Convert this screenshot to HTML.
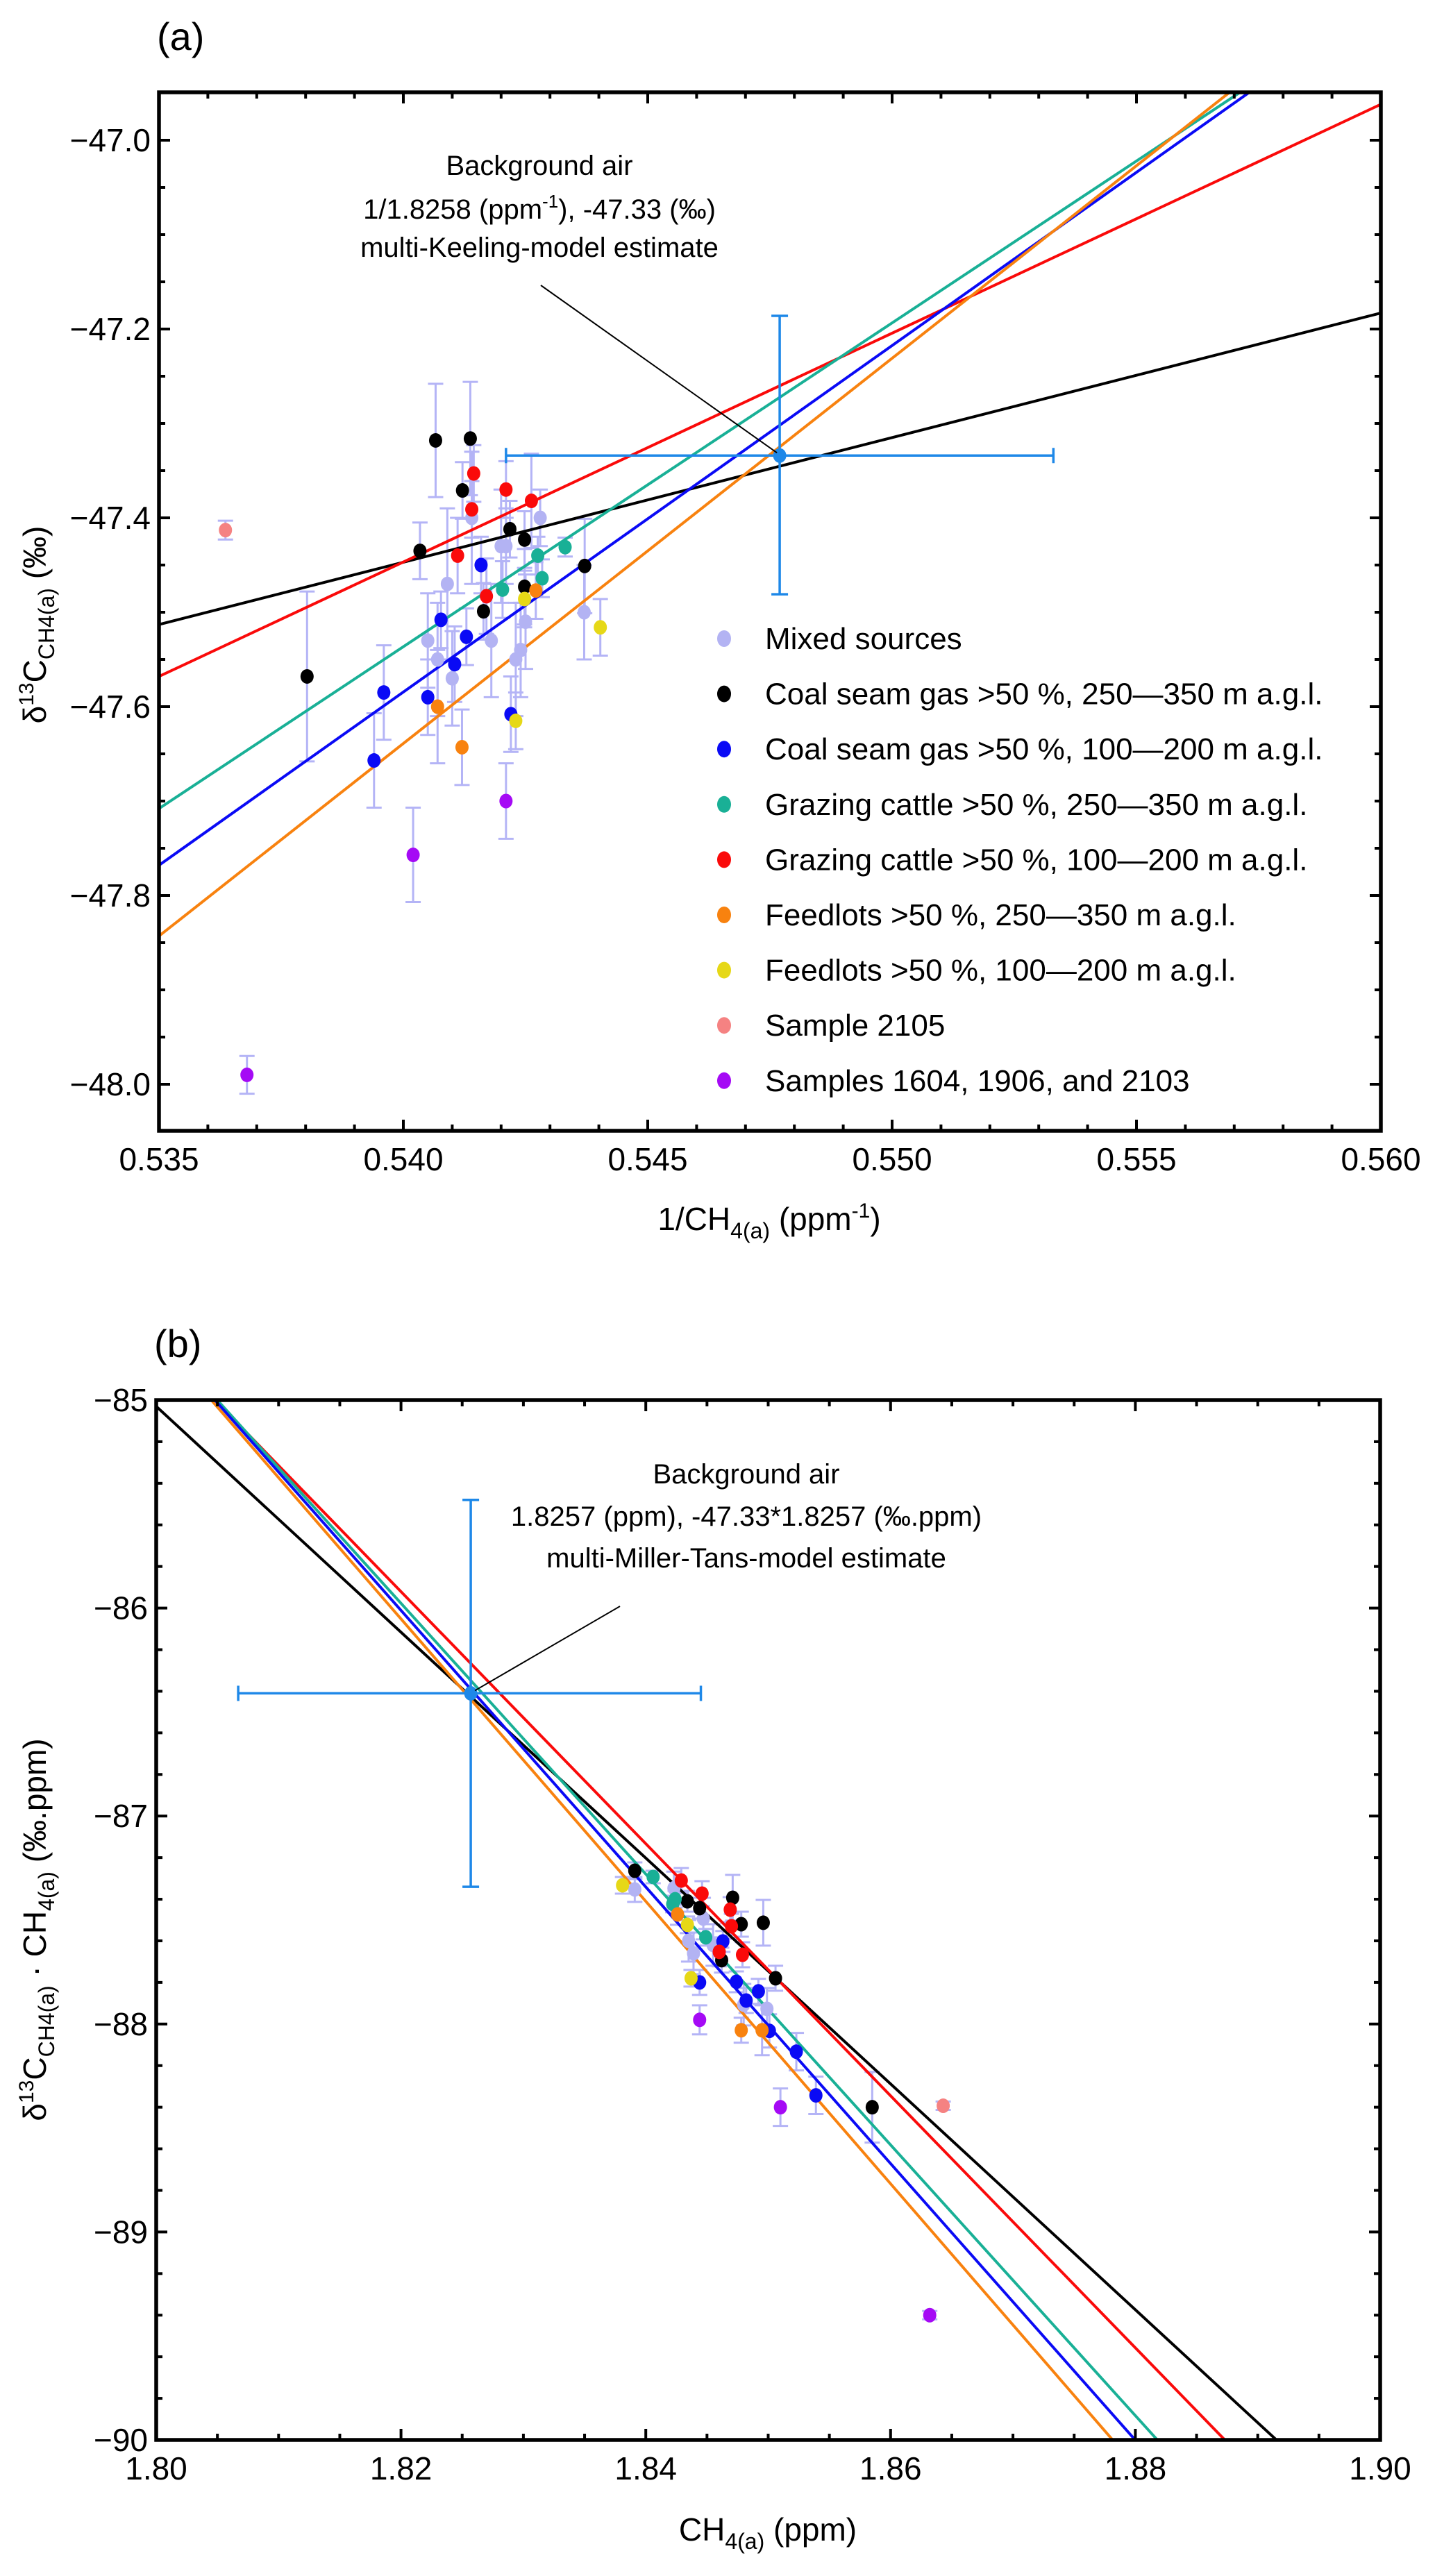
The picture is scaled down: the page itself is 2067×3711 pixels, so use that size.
<!DOCTYPE html>
<html><head><meta charset="utf-8"><style>
html,body{margin:0;padding:0;background:#fff;width:2067px;height:3711px;overflow:hidden}
svg{display:block;position:absolute;left:0;top:0}
text{font-family:"Liberation Sans",sans-serif;fill:#000}
</style></head><body>
<svg id="fig" xmlns="http://www.w3.org/2000/svg" width="2067" height="3711" viewBox="0 0 2067 3711">
<rect width="2067" height="3711" fill="#fff"/>
<defs>
<clipPath id="clipA"><rect x="229" y="133" width="1760" height="1496"/></clipPath>
<clipPath id="clipB"><rect x="225" y="2017" width="1763" height="1498"/></clipPath>
</defs>
<text x="226" y="72" font-size="56">(a)</text>
<text x="222" y="1955" font-size="56">(b)</text>
<g id="gA"></g>
<g id="gB"></g>

<text x="1108" y="1772" font-size="46" text-anchor="middle">1/CH<tspan font-size="32" dy="12">4(a)</tspan><tspan dy="-12"> (ppm</tspan><tspan font-size="30" dy="-18">-1</tspan><tspan dy="18">)</tspan></text>
<text transform="translate(66,900) rotate(-90)" font-size="46" text-anchor="middle">δ<tspan font-size="30" dy="-18">13</tspan><tspan dy="18">C</tspan><tspan font-size="32" dy="12">CH4(a)</tspan><tspan dy="-12"> (‰)</tspan></text>
<text x="1106" y="3660" font-size="46" text-anchor="middle">CH<tspan font-size="32" dy="12">4(a)</tspan><tspan dy="-12"> (ppm)</tspan></text>
<text transform="translate(66,2780) rotate(-90)" font-size="46" text-anchor="middle">δ<tspan font-size="30" dy="-18">13</tspan><tspan dy="18">C</tspan><tspan font-size="32" dy="12">CH4(a)</tspan><tspan dy="-12"> · CH</tspan><tspan font-size="32" dy="12">4(a)</tspan><tspan dy="-12"> (‰.ppm)</tspan></text>

<g font-size="40" text-anchor="middle">
<text x="777" y="252">Background air</text>
<text x="777" y="315">1/1.8258 (ppm<tspan font-size="26" dy="-16">-1</tspan><tspan dy="16">), -47.33 (‰)</tspan></text>
<text x="777" y="370">multi-Keeling-model estimate</text>
</g>
<g font-size="40" text-anchor="middle">
<text x="1075" y="2137">Background air</text>
<text x="1075" y="2198">1.8257 (ppm), -47.33*1.8257 (‰.ppm)</text>
<text x="1075" y="2258">multi-Miller-Tans-model estimate</text>
</g>
</svg>
<script>
// ---------- Panel (a) data ----------
const aMixX=[0.5405,0.5407,0.5410,0.5414,0.5418,0.5421,0.5424,0.5425,0.5428,0.5437,0.5423,0.5409,0.5420];
const aMixY=[-47.53,-47.55,-47.57,-47.40,-47.53,-47.43,-47.54,-47.51,-47.40,-47.50,-47.55,-47.47,-47.43];
const aMixE=[0.05,0.06,0.05,0.07,0.06,0.04,0.05,0.05,0.03,0.05,0.06,0.08,0.06];
const aCoalHiX=[0.54066,0.54137,0.54121,0.54218,0.54248,0.54034,0.54371,0.54248,0.54164,0.53803];
const aCoalHiY=[-47.318,-47.316,-47.371,-47.412,-47.423,-47.435,-47.451,-47.473,-47.499,-47.568];
const aCoalHiE=[0.06,0.06,0.03,0.03,0.03,0.03,0.05,0.04,0.03,0.09];
const aCoalLoX=[0.54159,0.54077,0.54129,0.54105,0.5394,0.5396,0.5405,0.5422];
const aCoalLoY=[-47.450,-47.508,-47.526,-47.555,-47.657,-47.585,-47.59,-47.608];
const aCoalLoE=[0.03,0.03,0.03,0.04,0.05,0.05,0.04,0.04];
const aGrazHiX=[0.54331,0.54275,0.54284,0.54203];
const aGrazHiY=[-47.431,-47.440,-47.464,-47.476];
const aGrazHiE=[0.01,0.02,0.02,0.03];
const aGrazLoX=[0.54144,0.5421,0.5414,0.54262,0.54111,0.5417];
const aGrazLoY=[-47.353,-47.370,-47.391,-47.382,-47.440,-47.483];
const aGrazLoE=[0.03,0.03,0.03,0.05,0.04,0.04];
const aFeedHiX=[0.54271,0.5407,0.5412];
const aFeedHiY=[-47.477,-47.60,-47.643];
const aFeedHiE=[0.03,0.06,0.04];
const aFeedLoX=[0.54248,0.54403,0.5423];
const aFeedLoY=[-47.486,-47.516,-47.615];
const aFeedLoE=[0.03,0.03,0.03];
const aS2105X=[0.53636];
const aS2105Y=[-47.413];
const aS2105E=[0.01];
const aSampX=[0.5368,0.5402,0.5421];
const aSampY=[-47.99,-47.757,-47.70];
const aSampE=[0.02,0.05,0.04];
const aBgX=0.5477, aBgY=-47.334, aBgXlo=0.5421, aBgXhi=0.5533, aBgYlo=-47.481, aBgYhi=-47.186;
const aFitNames=['coal-hi','red-graz-lo','teal-graz-hi','blue-coal-lo','orange-feed-hi'];
const aFitAt0535=[-47.513,-47.568,-47.708,-47.768,-47.843];
const aFitSlope=[13.2,24.24,34.3,36.7,40.8];
const aXTicks=[0.535,0.540,0.545,0.550,0.555,0.560];
const aXTickLabels=['0.535','0.540','0.545','0.550','0.555','0.560'];
const aYTicks=[-47.0,-47.2,-47.4,-47.6,-47.8,-48.0];
const aYTickLabels=['−47.0','−47.2','−47.4','−47.6','−47.8','−48.0'];
const legendLabels=['Mixed sources','Coal seam gas >50 %, 250—350 m a.g.l.','Coal seam gas >50 %, 100—200 m a.g.l.','Grazing cattle >50 %, 250—350 m a.g.l.','Grazing cattle >50 %, 100—200 m a.g.l.','Feedlots >50 %, 250—350 m a.g.l.','Feedlots >50 %, 100—200 m a.g.l.','Sample 2105','Samples 1604, 1906, and 2103'];

// ---------- Panel (b) data ----------
const bMixX=[1.8391,1.8435,1.8439,1.8447,1.8480,1.8499,1.8423,1.8455];
const bMixY=[-87.353,-87.60,-87.66,-87.493,-87.907,-87.927,-87.347,-87.62];
const bMixE=[0.06,0.1,0.1,0.1,0.1,0.1,0.08,0.1];
const bCoalHiX=[1.8391,1.8434,1.8444,1.8471,1.8478,1.8496,1.8462,1.8506,1.8585];
const bCoalHiY=[-87.263,-87.41,-87.443,-87.393,-87.52,-87.513,-87.693,-87.78,-88.40];
const bCoalHiE=[0.04,0.05,0.05,0.11,0.06,0.11,0.06,0.06,0.17];
const bCoalLoX=[1.8463,1.8444,1.8474,1.8492,1.8482,1.8501,1.8523,1.8539];
const bCoalLoY=[-87.603,-87.80,-87.797,-87.843,-87.887,-88.033,-88.133,-88.343];
const bCoalLoE=[0.05,0.06,0.05,0.06,0.06,0.08,0.09,0.09];
const bGrazHiX=[1.8406,1.8424,1.8422,1.8449];
const bGrazHiY=[-87.293,-87.40,-87.423,-87.583];
const bGrazHiE=[0.03,0.04,0.04,0.04];
const bGrazLoX=[1.8429,1.8446,1.8469,1.847,1.846,1.8479];
const bGrazLoY=[-87.31,-87.373,-87.45,-87.53,-87.653,-87.667];
const bGrazLoE=[0.06,0.06,0.06,0.06,0.07,0.06];
const bFeedHiX=[1.8426,1.8478,1.8495];
const bFeedHiY=[-87.473,-88.03,-88.03];
const bFeedHiE=[0.05,0.06,0.12];
const bFeedLoX=[1.8381,1.8434,1.8437];
const bFeedLoY=[-87.333,-87.523,-87.78];
const bFeedLoE=[0.04,0.04,0.04];
const bS2105X=[1.8643];
const bS2105Y=[-88.393];
const bS2105E=[0.02];
const bSampX=[1.8444,1.8510,1.8632];
const bSampY=[-87.98,-88.40,-89.40];
const bSampE=[0.07,0.09,0.02];
const bBgX=1.8257, bBgY=-86.41, bBgXlo=1.8067, bBgXhi=1.8445, bBgYlo=-87.34, bBgYhi=-85.48;
const bFitNames=['coal-hi','red-graz-lo','teal-graz-hi','blue-coal-lo','orange-feed-hi'];
const bFitAt180=[-85.03,-84.709,-84.675,-84.681,-84.694];
const bFitSlope=[-54.3,-60.6,-65.1,-66.5,-67.9];
const bXTicks=[1.80,1.82,1.84,1.86,1.88,1.90];
const bXTickLabels=['1.80','1.82','1.84','1.86','1.88','1.90'];
const bYTicks=[-85,-86,-87,-88,-89,-90];
const bYTickLabels=['−85','−86','−87','−88','−89','−90'];

const COLORS={mix:'#b3b3f3',coalHi:'#000000',coalLo:'#0a0af5',grazHi:'#19b096',grazLo:'#fa0a0a',feedHi:'#f8820f',feedLo:'#e6d817',s2105:'#f58282',samp:'#a50af5',bg:'#1e88e8',err:'#b4b4f6'};
const fitColors=[COLORS.coalHi,COLORS.grazLo,COLORS.grazHi,COLORS.coalLo,COLORS.feedHi];
const NS='http://www.w3.org/2000/svg';

function mk(parent,tag,attrs){const e=document.createElementNS(NS,tag);for(const k in attrs)e.setAttribute(k,attrs[k]);parent.appendChild(e);return e;}

function axes(g,P,xT,xL,yT,yL,xMinorStep,yMinorStep,prefix){
  const f=mk(g,'rect',{x:P.L,y:P.T,width:P.R-P.L,height:P.B-P.T,fill:'none',stroke:'#000','stroke-width':5.5});
  
  
  const x0=xT[0],x1=xT[xT.length-1];
  const nx=Math.round((x1-x0)/xMinorStep);
  for(let i=0;i<=nx;i++){const v=x0+i*xMinorStep;const px=P.sx(v);const major=(i%Math.round((xT[1]-xT[0])/xMinorStep)===0);const len=major?16:9;
    mk(g,'line',{x1:px,y1:P.B,x2:px,y2:P.B-len,stroke:'#000','stroke-width':4});
    mk(g,'line',{x1:px,y1:P.T,x2:px,y2:P.T+len,stroke:'#000','stroke-width':4});}
  const y0=yT[0],y1=yT[yT.length-1];
  const ny=Math.round(Math.abs(y1-y0)/yMinorStep);const dir=y1>y0?1:-1;
  const per=Math.round(Math.abs(yT[1]-yT[0])/yMinorStep);
  for(let i=0;i<=ny;i++){const v=y0+dir*i*yMinorStep;const py=P.sy(v);const len=(i%per===0)?16:9;
    mk(g,'line',{x1:P.L,y1:py,x2:P.L+len,y2:py,stroke:'#000','stroke-width':4});
    mk(g,'line',{x1:P.R,y1:py,x2:P.R-len,y2:py,stroke:'#000','stroke-width':4});}
  xT.forEach((v,i)=>{const t=mk(g,'text',{x:P.sx(v),y:P.B+57,'font-size':46,'text-anchor':'middle'});t.textContent=xL[i];
    
    });
  yT.forEach((v,i)=>{const t=mk(g,'text',{x:P.L-12,y:P.sy(v)+16,'font-size':46,'text-anchor':'end'});t.textContent=yL[i];
    
    });
}

function errbars(g,P,xs,ys,es,prefix){
  xs.forEach((x,i)=>{const px=P.sx(x),yt=P.sy(ys[i]+es[i]),yb=P.sy(ys[i]-es[i]);
    const eg=mk(g,'g',{stroke:COLORS.err,'stroke-width':3});
    
    
    mk(eg,'line',{x1:px,y1:yt,x2:px,y2:yb});
    mk(eg,'line',{x1:px-11,y1:yt,x2:px+11,y2:yt});
    mk(eg,'line',{x1:px-11,y1:yb,x2:px+11,y2:yb});});
}
function points(g,P,xs,ys,color,prefix){
  xs.forEach((x,i)=>{const c=mk(g,'ellipse',{cx:P.sx(x),cy:P.sy(ys[i]),rx:9.5,ry:10.5,fill:color});
    
    });
}
function bgPoint(g,P,x,y,xlo,xhi,ylo,yhi,prefix){
  const bg=mk(g,'g',{stroke:COLORS.bg,'stroke-width':3.5});
  
  
  const px=P.sx(x),py=P.sy(y);
  mk(bg,'line',{x1:P.sx(xlo),y1:py,x2:P.sx(xhi),y2:py});
  mk(bg,'line',{x1:P.sx(xlo),y1:py-11,x2:P.sx(xlo),y2:py+11});
  mk(bg,'line',{x1:P.sx(xhi),y1:py-11,x2:P.sx(xhi),y2:py+11});
  mk(bg,'line',{x1:px,y1:P.sy(ylo),x2:px,y2:P.sy(yhi)});
  mk(bg,'line',{x1:px-12,y1:P.sy(ylo),x2:px+12,y2:P.sy(ylo)});
  mk(bg,'line',{x1:px-12,y1:P.sy(yhi),x2:px+12,y2:P.sy(yhi)});
  mk(bg,'ellipse',{cx:px,cy:py,rx:9.5,ry:10.5,fill:COLORS.bg,stroke:'none'});
}

// ---------- Panel A ----------
const PA={L:229,R:1989,T:133,B:1629};
PA.sx=v=>PA.L+(v-0.535)/0.025*(PA.R-PA.L);
PA.sy=v=>202+(-47.0-v)*1360;
const gA=document.getElementById('gA');
const aSeries=[[aMixX,aMixY,aMixE,COLORS.mix,'mixed'],[aCoalHiX,aCoalHiY,aCoalHiE,COLORS.coalHi,'coal-hi'],[aCoalLoX,aCoalLoY,aCoalLoE,COLORS.coalLo,'coal-lo'],[aGrazHiX,aGrazHiY,aGrazHiE,COLORS.grazHi,'grazing-hi'],[aGrazLoX,aGrazLoY,aGrazLoE,COLORS.grazLo,'grazing-lo'],[aFeedHiX,aFeedHiY,aFeedHiE,COLORS.feedHi,'feedlot-hi'],[aFeedLoX,aFeedLoY,aFeedLoE,COLORS.feedLo,'feedlot-lo'],[aS2105X,aS2105Y,aS2105E,COLORS.s2105,'sample-2105'],[aSampX,aSampY,aSampE,COLORS.samp,'samples-1604-1906-2103']];
const aErrG=mk(gA,'g',{});
aSeries.forEach(s=>errbars(aErrG,PA,s[0],s[1],s[2],'a-'+s[4]));
const aLineG=mk(gA,'g',{'clip-path':'url(#clipA)'});
aFitNames.forEach((n,i)=>{const xa=0.535,xb=0.560;
  const l=mk(aLineG,'line',{x1:PA.sx(xa),y1:PA.sy(aFitAt0535[i]),x2:PA.sx(xb),y2:PA.sy(aFitAt0535[i]+aFitSlope[i]*(xb-xa)),stroke:fitColors[i],'stroke-width':4});
  
  });
const aPtG=mk(gA,'g',{});
aSeries.forEach(s=>points(aPtG,PA,s[0],s[1],s[3],'a-'+s[4]));
bgPoint(gA,PA,aBgX,aBgY,aBgXlo,aBgXhi,aBgYlo,aBgYhi,'a');
const aPtr=mk(gA,'line',{x1:779,y1:411,x2:PA.sx(aBgX)-4,y2:PA.sy(aBgY)-4,stroke:'#000','stroke-width':2});


axes(gA,PA,aXTicks,aXTickLabels,aYTicks,aYTickLabels,0.001,0.05,'a');
const legColors=[COLORS.mix,COLORS.coalHi,COLORS.coalLo,COLORS.grazHi,COLORS.grazLo,COLORS.feedHi,COLORS.feedLo,COLORS.s2105,COLORS.samp];
const legG=mk(gA,'g',{});


legendLabels.forEach((lab,i)=>{const y=920+i*79.6;
  const eg=mk(legG,'g',{});
  
  
  mk(eg,'ellipse',{cx:1043,cy:y,rx:10,ry:12,fill:legColors[i]});
  const t=mk(eg,'text',{x:1102,y:y+15,'font-size':44});t.textContent=lab;});

// ---------- Panel B ----------
const PB={L:225,R:1988,T:2017,B:3515};
PB.sx=v=>PB.L+(v-1.80)/0.10*(PB.R-PB.L);
PB.sy=v=>PB.T+(-85-v)*(PB.B-PB.T)/5;
const gB=document.getElementById('gB');
const bSeries=[[bMixX,bMixY,bMixE,COLORS.mix,'mixed'],[bCoalHiX,bCoalHiY,bCoalHiE,COLORS.coalHi,'coal-hi'],[bCoalLoX,bCoalLoY,bCoalLoE,COLORS.coalLo,'coal-lo'],[bGrazHiX,bGrazHiY,bGrazHiE,COLORS.grazHi,'grazing-hi'],[bGrazLoX,bGrazLoY,bGrazLoE,COLORS.grazLo,'grazing-lo'],[bFeedHiX,bFeedHiY,bFeedHiE,COLORS.feedHi,'feedlot-hi'],[bFeedLoX,bFeedLoY,bFeedLoE,COLORS.feedLo,'feedlot-lo'],[bS2105X,bS2105Y,bS2105E,COLORS.s2105,'sample-2105'],[bSampX,bSampY,bSampE,COLORS.samp,'samples-1604-1906-2103']];
const bErrG=mk(gB,'g',{});
bSeries.forEach(s=>errbars(bErrG,PB,s[0],s[1],s[2],'b-'+s[4]));
const bLineG=mk(gB,'g',{'clip-path':'url(#clipB)'});
bFitNames.forEach((n,i)=>{const xa=1.80,xb=1.90;
  const l=mk(bLineG,'line',{x1:PB.sx(xa),y1:PB.sy(bFitAt180[i]),x2:PB.sx(xb),y2:PB.sy(bFitAt180[i]+bFitSlope[i]*(xb-xa)),stroke:fitColors[i],'stroke-width':4});
  
  });
const bPtG=mk(gB,'g',{});
bSeries.forEach(s=>points(bPtG,PB,s[0],s[1],s[3],'b-'+s[4]));
bgPoint(gB,PB,bBgX,bBgY,bBgXlo,bBgXhi,bBgYlo,bBgYhi,'b');
const bPtr=mk(gB,'line',{x1:893,y1:2314,x2:PB.sx(bBgX)+6,y2:PB.sy(bBgY)-4,stroke:'#000','stroke-width':2});


axes(gB,PB,bXTicks,bXTickLabels,bYTicks,bYTickLabels,0.005,0.2,'b');
</script>
</body></html>
